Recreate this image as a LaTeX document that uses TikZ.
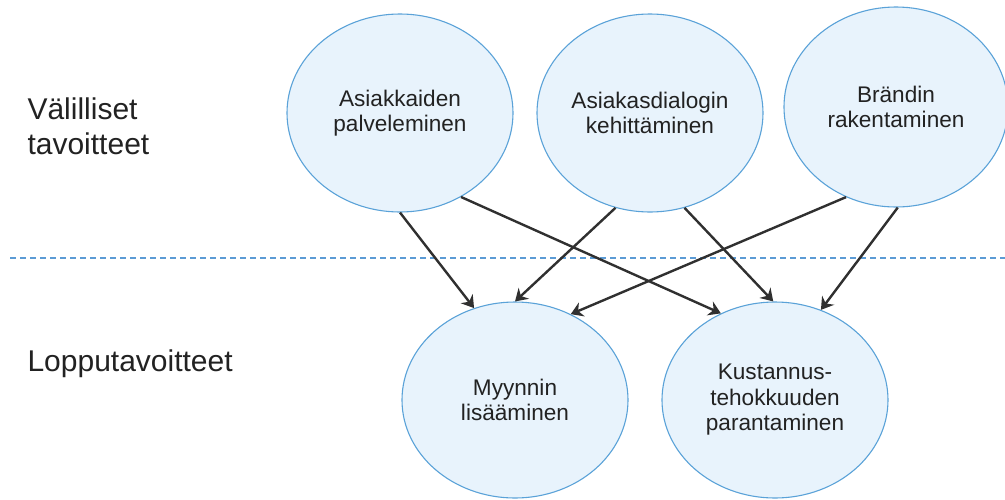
\documentclass[tikz,border=0pt]{standalone}
\usepackage{fontspec}
\setmainfont{Liberation Sans}
\usetikzlibrary{shapes.geometric,arrows.meta}
\definecolor{efill}{HTML}{E8F3FC}
\definecolor{edraw}{HTML}{5AA2D8}
\definecolor{dashblue}{HTML}{5B9BD5}
\definecolor{txt}{HTML}{222222}
\definecolor{arr}{HTML}{303030}
\begin{document}
\begin{tikzpicture}[x=1pt,y=-1pt,
  goal/.style={ellipse,draw=edraw,line width=1.1pt,fill=efill,minimum width=226pt,minimum height=198pt,inner sep=0pt,align=center,text=txt,font=\fontsize{22.6}{25.5}\selectfont},
  side/.style={anchor=west,align=left,text=txt,font=\fontsize{30}{35}\selectfont},
  link/.style={draw=arr,line width=2.4pt,-{Stealth[length=12pt,width=15pt,inset=4pt]}}]
\useasboundingbox (0,0) rectangle (1005,499);
\node[goal] (e1) at (400,113) {Asiakkaiden\\palveleminen};
\node[goal] (e2) at (650,113) {Asiakasdialogin\\kehittäminen};
\node[goal,minimum width=224pt,minimum height=200pt] (e3) at (896,107) {Brändin\\rakentaminen};
\node[goal,minimum height=196pt] (b1) at (515,400) {Myynnin\\lisääminen};
\node[goal,minimum height=196pt] (b2) at (775,400) {Kustannus-\\tehokkuuden\\parantaminen};
\node[side] (l1) at (24,126) {Välilliset\\tavoitteet};
\node[side] (l2) at (24,364) {Lopputavoitteet};
\coordinate (d0) at (10,258);
\coordinate (d1) at (1005,258);
\draw[draw=dashblue,line width=1.5pt,dash pattern=on 6pt off 4pt] (d0) -- (d1);
\draw[link] (e1.-90) -- (b1.114);
\draw[link] (e1.-54) -- (b2.122);
\draw[link] (e2.-110) -- (b1.90);
\draw[link] (e2.-70) -- (b2.91);
\draw[link] (e3.-119) -- (b1.57);
\draw[link] (e3.-89) -- (b2.63);
\end{tikzpicture}
\end{document}
